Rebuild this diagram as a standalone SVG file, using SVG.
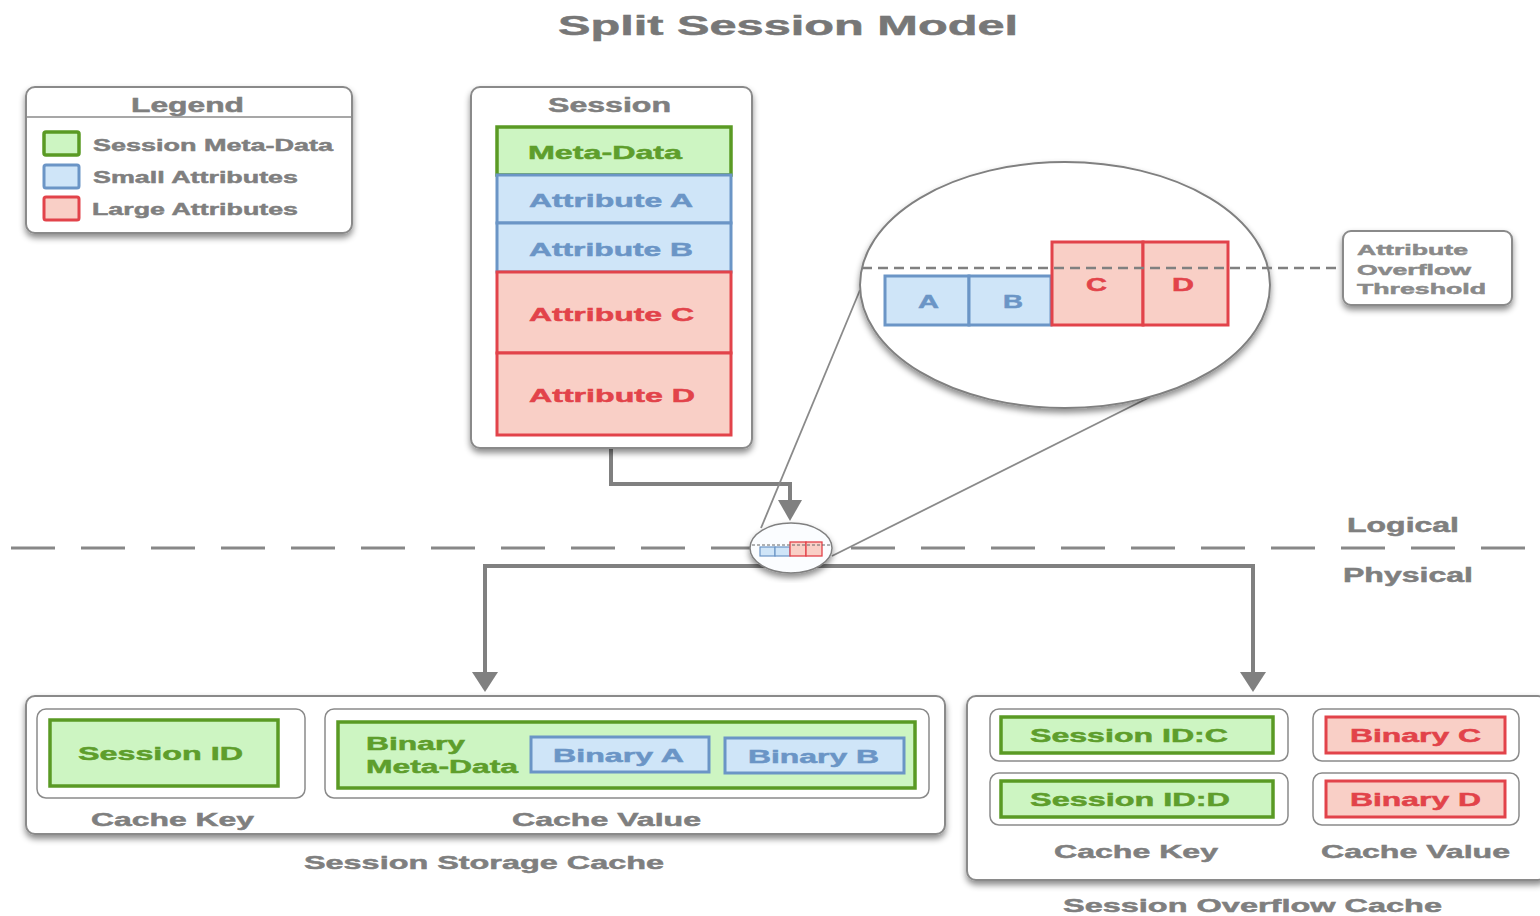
<svg xmlns="http://www.w3.org/2000/svg" width="1540" height="916" viewBox="0 0 1540 916">
  <defs>
    <filter id="shadow" x="-10%" y="-10%" width="120%" height="130%">
      <feDropShadow dx="0" dy="4" stdDeviation="3" flood-color="#000" flood-opacity="0.45"/>
    </filter>
    <style>
      text { font-family: "Liberation Sans", Arial, sans-serif; font-weight: bold; stroke-width: 0.5; }
      .gray { fill: #7f7f7f; stroke: #7f7f7f; }
      .frame { fill: #fff; stroke: #8a8a8a; stroke-width: 2; }
      .inner { fill: #fff; stroke: #8a8a8a; stroke-width: 1.5; }
      .green { fill: #cdf5c2; stroke: #5a9a24; stroke-width: 3.5; }
      .blue { fill: #cfe5f8; stroke: #6b95c6; stroke-width: 3; }
      .red { fill: #f9cfc6; stroke: #e2434a; stroke-width: 3; }
      .tg { fill: #5e9e2c; stroke: #5e9e2c; }
      .tb { fill: #6b95c6; stroke: #6b95c6; }
      .tr { fill: #e2434a; stroke: #e2434a; }
      .conn { fill: none; stroke: #808080; stroke-width: 4; }
      .head { fill: #808080; }
      .zoomline { stroke: #8a8a8a; stroke-width: 1.8; fill: none; }
    </style>
  </defs>

  <rect width="1540" height="916" fill="#fff"/>

  <!-- title -->
  <text x="558" y="35" font-size="28" textLength="460" lengthAdjust="spacingAndGlyphs" fill="#777" stroke="#777">Split Session Model</text>

  <!-- logical / physical boundary -->
  <g id="boundary">
    <line x1="11" y1="548" x2="1536" y2="548" stroke="#888" stroke-width="3" stroke-dasharray="44 26"/>
    <text x="1347" y="532" font-size="20" textLength="112" lengthAdjust="spacingAndGlyphs" class="gray">Logical</text>
    <text x="1343" y="582" font-size="20" textLength="130" lengthAdjust="spacingAndGlyphs" class="gray">Physical</text>
  </g>

  <!-- legend -->
  <g id="legend">
    <rect x="26" y="87" width="326" height="146" rx="9" class="frame" filter="url(#shadow)"/>
    <line x1="27" y1="117" x2="351" y2="117" stroke="#8a8a8a" stroke-width="1.5"/>
    <text x="131" y="112" font-size="20" textLength="113" lengthAdjust="spacingAndGlyphs" class="gray">Legend</text>
    <rect x="44" y="132" width="35" height="23" rx="2" class="green"/>
    <rect x="44" y="165" width="35" height="23" rx="2" class="blue"/>
    <rect x="44" y="197" width="35" height="23" rx="2" class="red"/>
    <text x="93" y="151" font-size="17" textLength="240" lengthAdjust="spacingAndGlyphs" class="gray">Session Meta-Data</text>
    <text x="93" y="183" font-size="17" textLength="205" lengthAdjust="spacingAndGlyphs" class="gray">Small Attributes</text>
    <text x="92" y="215" font-size="17" textLength="206" lengthAdjust="spacingAndGlyphs" class="gray">Large Attributes</text>
  </g>

  <!-- connectors -->
  <g id="connectors">
    <path d="M611 448 V484 H790 V503" class="conn"/>
    <polygon points="778,500 802,500 790,521" class="head"/>
    <path d="M485 675 V566 H1253 V675" class="conn"/>
    <polygon points="472,672 498,672 485,692" class="head"/>
    <polygon points="1240,672 1266,672 1253,692" class="head"/>
    <!-- magnifier guide lines -->
    <line x1="860" y1="290" x2="761" y2="528" class="zoomline"/>
    <line x1="1150" y1="397" x2="832" y2="556" class="zoomline"/>
  </g>

  <!-- session object -->
  <g id="session">
    <rect x="471" y="87" width="281" height="361" rx="9" class="frame" filter="url(#shadow)"/>
    <text x="548" y="112" font-size="20" textLength="123" lengthAdjust="spacingAndGlyphs" class="gray">Session</text>
    <rect x="497" y="127" width="234" height="48" class="green"/>
    <rect x="497" y="175" width="234" height="48" class="blue"/>
    <rect x="497" y="223" width="234" height="49" class="blue"/>
    <rect x="497" y="272" width="234" height="81" class="red"/>
    <rect x="497" y="353" width="234" height="82" class="red"/>
    <text x="528" y="159" font-size="19" textLength="154" lengthAdjust="spacingAndGlyphs" class="tg">Meta-Data</text>
    <text x="529" y="207" font-size="19" textLength="164" lengthAdjust="spacingAndGlyphs" class="tb">Attribute A</text>
    <text x="529" y="256" font-size="19" textLength="164" lengthAdjust="spacingAndGlyphs" class="tb">Attribute B</text>
    <text x="529" y="321" font-size="19" textLength="165" lengthAdjust="spacingAndGlyphs" class="tr">Attribute C</text>
    <text x="529" y="402" font-size="19" textLength="166" lengthAdjust="spacingAndGlyphs" class="tr">Attribute D</text>
  </g>

  <!-- magnified view of the attribute threshold -->
  <g id="magnifier">
    <ellipse cx="1065" cy="285" rx="205" ry="123" fill="#fff" stroke="#808080" stroke-width="2" filter="url(#shadow)"/>
    <rect x="885" y="276" width="84" height="49" class="blue"/>
    <rect x="969" y="276" width="82" height="49" class="blue"/>
    <rect x="1052" y="242" width="91" height="83" class="red"/>
    <rect x="1143" y="242" width="85" height="83" class="red"/>
    <line x1="862" y1="268" x2="1343" y2="268" stroke="#808080" stroke-width="2.5" stroke-dasharray="10 6"/>
    <text x="918" y="308" font-size="19" textLength="21" lengthAdjust="spacingAndGlyphs" class="tb">A</text>
    <text x="1003" y="308" font-size="19" textLength="20" lengthAdjust="spacingAndGlyphs" class="tb">B</text>
    <text x="1086" y="291" font-size="19" textLength="21" lengthAdjust="spacingAndGlyphs" class="tr">C</text>
    <text x="1172" y="291" font-size="19" textLength="22" lengthAdjust="spacingAndGlyphs" class="tr">D</text>
  </g>

  <!-- threshold label -->
  <g id="threshold">
    <rect x="1343" y="231" width="169" height="74" rx="8" class="frame" filter="url(#shadow)"/>
    <text x="1357" y="255" font-size="15" textLength="111" lengthAdjust="spacingAndGlyphs" fill="#8a8a8a" stroke="#8a8a8a">Attribute</text>
    <text x="1357" y="275" font-size="15" textLength="114" lengthAdjust="spacingAndGlyphs" fill="#8a8a8a" stroke="#8a8a8a">Overflow</text>
    <text x="1357" y="294" font-size="15" textLength="129" lengthAdjust="spacingAndGlyphs" fill="#8a8a8a" stroke="#8a8a8a">Threshold</text>
  </g>

  <!-- small lens on the boundary -->
  <g id="lens">
    <ellipse cx="791" cy="548" rx="41" ry="25" fill="#fbfdff" stroke="#808080" stroke-width="1.5" filter="url(#shadow)"/>
    <rect x="760" y="547" width="15" height="9" fill="#cfe5f8" stroke="#6b95c6" stroke-width="1.2"/>
    <rect x="775" y="547" width="15" height="9" fill="#cfe5f8" stroke="#6b95c6" stroke-width="1.2"/>
    <rect x="790" y="542" width="16" height="14" fill="#f9cfc6" stroke="#e2434a" stroke-width="1.3"/>
    <rect x="806" y="542" width="16" height="14" fill="#f9cfc6" stroke="#e2434a" stroke-width="1.3"/>
    <line x1="752" y1="545" x2="830" y2="545" stroke="#666" stroke-width="1" stroke-dasharray="3 2"/>
  </g>

  <!-- session storage cache -->
  <g id="storage-cache">
    <rect x="26" y="696" width="919" height="138" rx="9" class="frame" filter="url(#shadow)"/>
    <rect x="37" y="709" width="268" height="89" rx="9" class="inner"/>
    <rect x="50" y="720" width="228" height="66" class="green"/>
    <text x="78" y="760" font-size="19" textLength="165" lengthAdjust="spacingAndGlyphs" class="tg">Session ID</text>
    <text x="91" y="826" font-size="19" textLength="163" lengthAdjust="spacingAndGlyphs" class="gray">Cache Key</text>
    <rect x="325" y="709" width="604" height="89" rx="9" class="inner"/>
    <rect x="338" y="722" width="577" height="66" class="green"/>
    <text x="366" y="750" font-size="19" textLength="99" lengthAdjust="spacingAndGlyphs" class="tg">Binary</text>
    <text x="366" y="773" font-size="19" textLength="152" lengthAdjust="spacingAndGlyphs" class="tg">Meta-Data</text>
    <rect x="531" y="737" width="178" height="35" class="blue"/>
    <rect x="725" y="738" width="179" height="35" class="blue"/>
    <text x="553" y="762" font-size="19" textLength="131" lengthAdjust="spacingAndGlyphs" class="tb">Binary A</text>
    <text x="748" y="763" font-size="19" textLength="131" lengthAdjust="spacingAndGlyphs" class="tb">Binary B</text>
    <text x="512" y="826" font-size="19" textLength="189" lengthAdjust="spacingAndGlyphs" class="gray">Cache Value</text>
    <text x="304" y="869" font-size="19" textLength="360" lengthAdjust="spacingAndGlyphs" class="gray">Session Storage Cache</text>
  </g>

  <!-- session overflow cache -->
  <g id="overflow-cache">
    <rect x="967" y="696" width="580" height="184" rx="9" class="frame" filter="url(#shadow)"/>
    <rect x="990" y="709" width="298" height="52" rx="9" class="inner"/>
    <rect x="1001" y="717" width="272" height="36" class="green"/>
    <rect x="990" y="773" width="298" height="52" rx="9" class="inner"/>
    <rect x="1001" y="781" width="272" height="36" class="green"/>
    <rect x="1313" y="709" width="206" height="52" rx="9" class="inner"/>
    <rect x="1326" y="717" width="179" height="36" class="red"/>
    <rect x="1313" y="773" width="206" height="52" rx="9" class="inner"/>
    <rect x="1326" y="781" width="179" height="36" class="red"/>
    <text x="1030" y="742" font-size="19" textLength="198" lengthAdjust="spacingAndGlyphs" class="tg">Session ID:C</text>
    <text x="1030" y="806" font-size="19" textLength="200" lengthAdjust="spacingAndGlyphs" class="tg">Session ID:D</text>
    <text x="1350" y="742" font-size="19" textLength="131" lengthAdjust="spacingAndGlyphs" class="tr">Binary C</text>
    <text x="1350" y="806" font-size="19" textLength="131" lengthAdjust="spacingAndGlyphs" class="tr">Binary D</text>
    <text x="1054" y="858" font-size="19" textLength="164" lengthAdjust="spacingAndGlyphs" class="gray">Cache Key</text>
    <text x="1321" y="858" font-size="19" textLength="189" lengthAdjust="spacingAndGlyphs" class="gray">Cache Value</text>
    <text x="1063" y="912" font-size="19" textLength="379" lengthAdjust="spacingAndGlyphs" class="gray">Session Overflow Cache</text>
  </g>
</svg>
